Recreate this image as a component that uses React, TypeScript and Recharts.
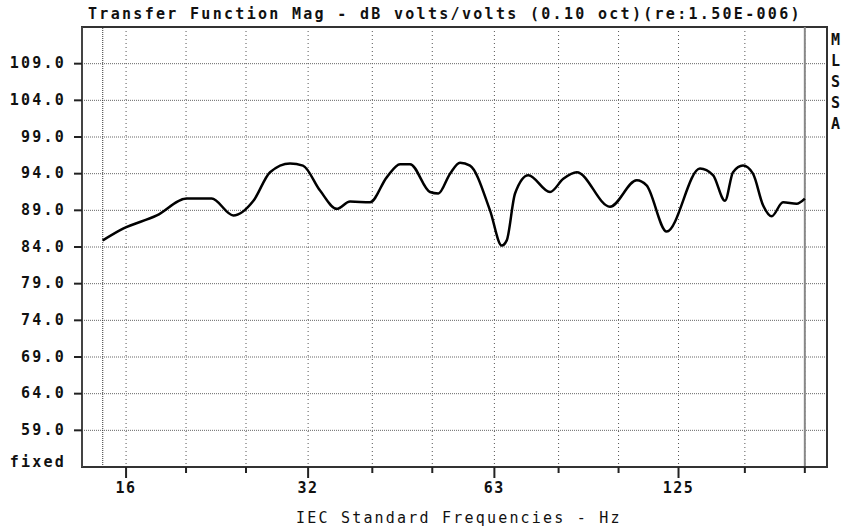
import React from "react";
import {
  LineChart,
  Line,
  XAxis,
  YAxis,
  CartesianGrid,
  ReferenceLine,
  ReferenceArea,
} from "recharts";

// frequency (Hz) and magnitude (dB)
const FREQ = [
  14.67, 15.82, 17.94, 20.05, 22.0, 23.85, 25.7, 27.34, 29.45, 30.9, 32.93,
  35.04, 36.82, 39.66, 42.2, 44.35, 46.03, 49.58, 51.14, 53.41, 55.44, 57.54,
  61.98, 64.74, 65.96, 68.03, 71.48, 77.49, 81.42, 85.58, 96.86, 107.0, 111.0,
  119.6, 135.4, 142.1, 148.6, 153.1, 158.9, 164.9, 171.2, 176.8, 184.4, 194.0,
  200.0,
];
const MAG_DB = [
  84.9, 86.5, 88.3, 90.6, 90.6, 88.3, 90.3, 94.2, 95.4, 95.1, 91.7, 89.2, 90.2,
  90.1, 93.5, 95.3, 95.3, 91.5, 91.3, 94.0, 95.5, 95.1, 89.0, 84.2, 84.9, 91.3,
  93.8, 91.5, 93.3, 94.2, 89.5, 93.1, 92.4, 86.1, 94.7, 93.8, 90.3, 94.2, 95.1,
  94.0, 89.7, 88.2, 90.1, 89.9, 90.6,
];

const X_TICKS = [16, 20, 25, 31.5, 40, 50, 63, 80, 100, 125, 160, 200];
const X_LABELS: Record<number, string> = { 16: "16", 31.5: "32", 63: "63", 125: "125" };
const Y_TICKS = [54, 59, 64, 69, 74, 79, 84, 89, 94, 99, 104, 109];
const SIDE_LETTERS = ["M", "L", "S", "S", "A"];

const X_MIN = 13.58;
const X_MAX = 217.2;
const Y_MIN = 54;
const Y_MAX = 114;
const DATA_START = 14.67;
const DATA_END = 200;

const FONT = "'DejaVu Sans Mono', monospace";

const data = FREQ.map((f, i) => ({ freq: f, db: MAG_DB[i] }));

const XTick = (props: any) => {
  const { x, y, payload } = props;
  const label = X_LABELS[payload.value];
  return (
    <g>
      <line x1={x} x2={x} y1={y} y2={y + (label ? 11 : 6)} stroke="#222" strokeWidth={2} />
      {label && (
        <text
          x={x}
          y={y + 21}
          textAnchor="middle"
          dominantBaseline="middle"
          fontFamily={FONT}
          fontWeight="bold"
          fontSize={15}
          letterSpacing={1.5}
          fill="#111"
        >
          {label}
        </text>
      )}
    </g>
  );
};

const YTick = (props: any) => {
  const { x, y, payload } = props;
  const v = payload.value;
  const label = v === Y_MIN ? "fixed" : v.toFixed(1);
  return (
    <g>
      {v !== Y_MIN && <line x1={x - 8} x2={x} y1={y} y2={y} stroke="#222" strokeWidth={2} />}
      <text
        x={x - 16}
        y={v === Y_MIN ? y - 5 : y}
        textAnchor="end"
        dominantBaseline="middle"
        fontFamily={FONT}
        fontWeight="bold"
        fontSize={15}
        letterSpacing={2.2}
        fill="#111"
      >
        {label}
      </text>
    </g>
  );
};

const textStyle: React.CSSProperties = {
  position: "absolute",
  fontFamily: FONT,
  fontWeight: "bold",
  fontSize: 15,
  letterSpacing: "2.2px",
  color: "#111",
  whiteSpace: "nowrap",
  lineHeight: "18px",
};

export default function App() {
  return (
    <div style={{ position: "absolute", left: 0, top: 0, width: 841, height: 528, background: "#fff", overflow: "hidden" }}>
      <div style={{ ...textStyle, left: 88, top: 5, letterSpacing: "2.3px" }}>
        Transfer Function Mag - dB volts/volts (0.10 oct)(re:1.50E-006)
      </div>
      <LineChart
        width={841}
        height={528}
        data={data}
        margin={{ top: 27, right: 14, bottom: 0, left: 0 }}
      >
        <CartesianGrid
          horizontal={false}
          stroke="#555"
          strokeDasharray="1 3"
        />
        <CartesianGrid
          vertical={false}
          stroke="#666"
          strokeDasharray="1 1"
        />
        <XAxis
          dataKey="freq"
          type="number"
          scale="log"
          domain={[X_MIN, X_MAX]}
          allowDataOverflow
          ticks={X_TICKS}
          interval={0}
          height={61}
          tickSize={0}
          tickMargin={0}
          tick={<XTick />}
          axisLine={{ stroke: "#333", strokeWidth: 2 }}
        />
        <YAxis
          type="number"
          domain={[Y_MIN, Y_MAX]}
          allowDataOverflow
          ticks={Y_TICKS}
          interval={0}
          width={82}
          tickSize={0}
          tickMargin={0}
          tick={<YTick />}
          axisLine={{ stroke: "#444", strokeWidth: 2 }}
        />
        <ReferenceLine x={DATA_START} stroke="#333" strokeDasharray="1 1" />
        <ReferenceLine x={DATA_END} stroke="#888" strokeWidth={2} />
        <ReferenceArea
          x1={X_MIN}
          x2={X_MAX}
          y1={Y_MIN}
          y2={Y_MAX}
          fill="none"
          stroke="#333"
          strokeWidth={2}
        />
        <Line
          type="monotone"
          dataKey="db"
          stroke="#000"
          strokeWidth={2.5}
          dot={false}
          isAnimationActive={false}
        />
      </LineChart>
      <div style={{ ...textStyle, left: 296, top: 509, fontWeight: "normal" }}>
        IEC Standard Frequencies - Hz
      </div>
      {SIDE_LETTERS.map((s, i) => (
        <div key={i} style={{ ...textStyle, left: 831, top: 31 + i * 21, letterSpacing: 0 }}>
          {s}
        </div>
      ))}
    </div>
  );
}
